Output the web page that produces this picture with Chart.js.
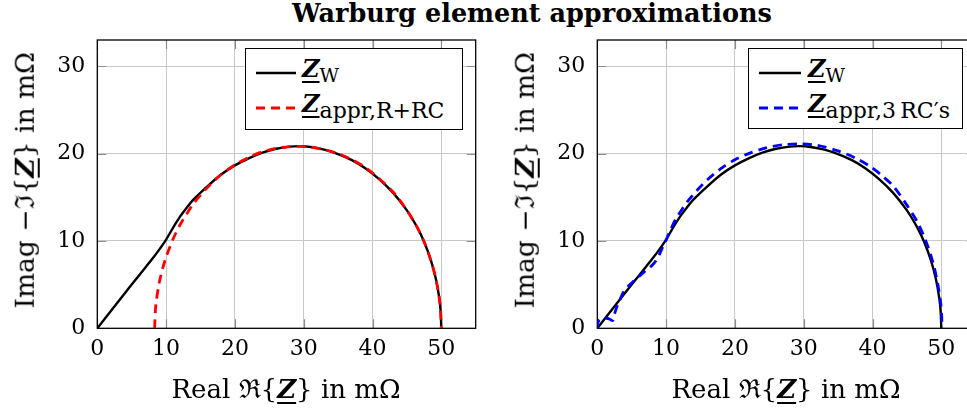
<!DOCTYPE html>
<html>
<head>
<meta charset="utf-8">
<script src="https://cdn.jsdelivr.net/npm/chart.js@4.4.1/dist/chart.umd.min.js"></script>
<style>
  html, body { margin: 0; padding: 0; background: #fff; }
  body { width: 967px; height: 412px; overflow: hidden; position: relative; font-family: 'DejaVu Serif', serif; color: #000; }
  canvas { position: absolute; top: 0; }
  .abs { position: absolute; white-space: nowrap; line-height: 1; }
  .z { font-weight: bold; font-style: italic; text-decoration: underline; text-decoration-thickness: 1.5px; text-underline-offset: 4px; }
  .sub { position: relative; }
  .leg { position: absolute; box-sizing: border-box; border: 1.2px solid #000; background: #fff; }
  .leg svg { position: absolute; left: 0; top: 0; }
  .title { font-weight: bold; font-size: 25.5px; }
  .axt { font-size: 26px; }
  .yt { width: 340px; text-align: center; transform: rotate(-90deg); font-size: 26.5px; }
</style>
</head>
<body>
<div class="abs title" style="left:532px; top:1px; transform:translateX(-50%);">Warburg element approximations</div>

<canvas id="left" width="490" height="412" style="left:0"></canvas>
<canvas id="right" width="500" height="412" style="left:500px"></canvas>

<div class="abs axt" style="left:286px; top:376px; transform:translateX(-50%);">Real ℜ{<span class="z">Z</span>} in mΩ</div>
<div class="abs axt" style="left:786px; top:376px; transform:translateX(-50%);">Real ℜ{<span class="z">Z</span>} in mΩ</div>
<div class="abs yt" style="left:-145.5px; top:167px;">Imag −ℑ{<span class="z">Z</span>} in mΩ</div>
<div class="abs yt" style="left:354.5px; top:167px;">Imag −ℑ{<span class="z">Z</span>} in mΩ</div>

<div class="leg" style="left:245px; top:48px; width:218px; height:82px;">
  <svg width="218" height="82">
    <line x1="10" y1="24" x2="50" y2="24" stroke="#000" stroke-width="2.4"/>
    <line x1="10" y1="59" x2="50" y2="59" stroke="#ff0000" stroke-width="2.8" stroke-dasharray="9 6"/>
  </svg>
  <div class="abs" style="left:56px; top:8px; font-size:24px;"><span class="z">Z</span><span class="sub" style="font-size:19px; top:5px;">W</span></div>
  <div class="abs" style="left:56px; top:43px; font-size:24px;"><span class="z">Z</span><span class="sub" style="font-size:22px; top:6px;">appr,R+RC</span></div>
</div>

<div class="leg" style="left:748px; top:48px; width:215px; height:81px;">
  <svg width="215" height="81">
    <line x1="10" y1="24" x2="52" y2="24" stroke="#000" stroke-width="2.4"/>
    <line x1="10" y1="59" x2="52" y2="59" stroke="#0000ff" stroke-width="2.8" stroke-dasharray="9 6"/>
  </svg>
  <div class="abs" style="left:59px; top:8px; font-size:24px;"><span class="z">Z</span><span class="sub" style="font-size:19px; top:5px;">W</span></div>
  <div class="abs" style="left:59px; top:43px; font-size:24px;"><span class="z">Z</span><span class="sub" style="font-size:22px; top:6px;">appr,3&#8201;RC′s</span></div>
</div>

<script>
// tick values (m-ohm)
const xTicks = [0, 10, 20, 30, 40, 50];
const yTicks = [0, 10, 20, 30];

// Z_W, Warburg element (shown in both panels)
const warburgRe = [0, 2, 4, 6, 8, 9, 10, 11, 12, 13, 14, 16, 18, 20, 22, 24, 26, 28, 29.5, 31, 33, 35, 37, 39, 41, 43, 45, 46.5, 47.5, 48.5, 49.2, 49.7, 49.9, 50];
const warburgIm = [0, 2, 4, 6, 7.95, 9.0, 10.15, 11.5, 12.75, 13.8, 14.75, 16.25, 17.6, 18.65, 19.45, 20.1, 20.55, 20.8, 20.85, 20.75, 20.45, 19.95, 19.25, 18.3, 17.05, 15.5, 13.5, 11.55, 9.9, 7.75, 5.7, 3.5, 2.0, 0];

// Z_appr, R+RC
const rrcRe = [8.33, 8.5, 9, 9.5, 10, 11, 12, 13, 14, 16, 18, 20, 22, 24, 26, 28, 29.2, 31, 33, 35, 37, 39, 41, 43, 45, 46.5, 47.5, 48.5, 49.2, 49.7, 49.9, 50];
const rrcIm = [0, 2.6, 5.2, 6.85, 8.15, 10.2, 11.8, 13.1, 14.3, 16.1, 17.6, 18.7, 19.55, 20.2, 20.6, 20.8, 20.83, 20.75, 20.45, 20.0, 19.3, 18.4, 17.1, 15.6, 13.5, 11.55, 9.9, 7.75, 5.7, 3.5, 2.0, 0];

// Z_appr, 3 RC's
const rc3Re = [0, 0.05, 0.3, 0.8, 1.4, 1.9, 2.25, 2.45, 2.8, 3.3, 3.9, 4.6, 5.3, 6.1, 6.9, 7.7, 8.4, 9.0, 9.5, 10.0, 10.6, 11.4, 12.3, 13.3, 14.5, 16, 18, 20, 22, 24.5, 27, 29.5, 32, 35, 37.5, 39.7, 41.5, 43.1, 45, 46.5, 47.6, 48.4, 49.0, 49.5, 49.85, 50.05, 50.1];
const rc3Im = [0, 0.55, 0.95, 1.15, 1.15, 1.0, 0.9, 1.5, 2.35, 3.3, 4.3, 4.9, 5.4, 5.95, 6.5, 7.0, 7.6, 8.4, 9.3, 10.1, 11.2, 12.5, 13.6, 14.7, 15.8, 17.0, 18.3, 19.3, 20.0, 20.65, 21.0, 21.1, 20.95, 20.3, 19.5, 18.5, 17.4, 16.2, 14.1, 12.2, 10.3, 8.55, 6.9, 5.0, 3.3, 1.5, 0];

const tickFont = { family: 'DejaVu Serif', size: 22 };

// box round the plot + short inner tick marks on all four sides
const frame = {
  id: 'frame',
  beforeDatasetsDraw(chart) {
    const { ctx, chartArea: a, scales: { x, y } } = chart;
    ctx.save();
    ctx.strokeStyle = '#8c8c8c';
    ctx.lineWidth = 1.2;
    ctx.beginPath();
    xTicks.forEach((v) => {
      const px = Math.round(x.getPixelForValue(v)) + 0.5;
      ctx.moveTo(px, a.bottom); ctx.lineTo(px, a.bottom - 9);
      ctx.moveTo(px, a.top); ctx.lineTo(px, a.top + 9);
    });
    yTicks.forEach((v) => {
      const py = Math.round(y.getPixelForValue(v)) + 0.5;
      ctx.moveTo(a.left, py); ctx.lineTo(a.left + 9, py);
      ctx.moveTo(a.right, py); ctx.lineTo(a.right - 9, py);
    });
    ctx.stroke();
    ctx.strokeStyle = '#000';
    ctx.lineWidth = 1.3;
    ctx.strokeRect(a.left, a.top, a.right - a.left, a.bottom - a.top);
    ctx.restore();
  },
};

function line(re, im, color, width, dash, order) {
  return {
    data: re.map((v, i) => ({ x: v, y: im[i] })),
    showLine: true,
    pointRadius: 0,
    borderColor: color,
    borderWidth: width,
    borderDash: dash,
    tension: 0.3,
    order: order,
  };
}

function makeChart(id, padRight, datasets) {
  new Chart(document.getElementById(id), {
    type: 'scatter',
    data: { datasets },
    options: {
      responsive: false,
      animation: false,
      events: [],
      layout: { padding: { left: 0, top: 40, right: padRight, bottom: 0 } },
      plugins: { legend: { display: false }, tooltip: { enabled: false } },
      scales: {
        x: {
          type: 'linear', min: 0, max: 55,
          afterBuildTicks: (s) => { s.ticks = xTicks.map((v) => ({ value: v })); },
          afterFit: (s) => { s.height = 83.7; },
          ticks: { font: tickFont, color: '#000', padding: 8, maxRotation: 0, autoSkip: false },
          grid: { color: '#c8c8c8', lineWidth: 1, drawTicks: false },
          border: { display: false },
        },
        y: {
          type: 'linear', min: 0, max: 33,
          afterBuildTicks: (s) => { s.ticks = yTicks.map((v) => ({ value: v })); },
          afterFit: (s) => { s.width = 97.3; },
          ticks: { font: tickFont, color: '#000', padding: 12 },
          grid: { color: '#c8c8c8', lineWidth: 1, drawTicks: false },
          border: { display: false },
        },
      },
    },
    plugins: [frame],
  });
}

makeChart('left', 14.3, [
  line(warburgRe, warburgIm, '#000', 2.4, [], 2),
  line(rrcRe, rrcIm, '#ff0000', 2.8, [9, 6], 1),
]);
makeChart('right', 24.3, [
  line(warburgRe, warburgIm, '#000', 2.4, [], 2),
  line(rc3Re, rc3Im, '#0000ff', 2.8, [9, 6], 1),
]);
</script>
</body>
</html>
